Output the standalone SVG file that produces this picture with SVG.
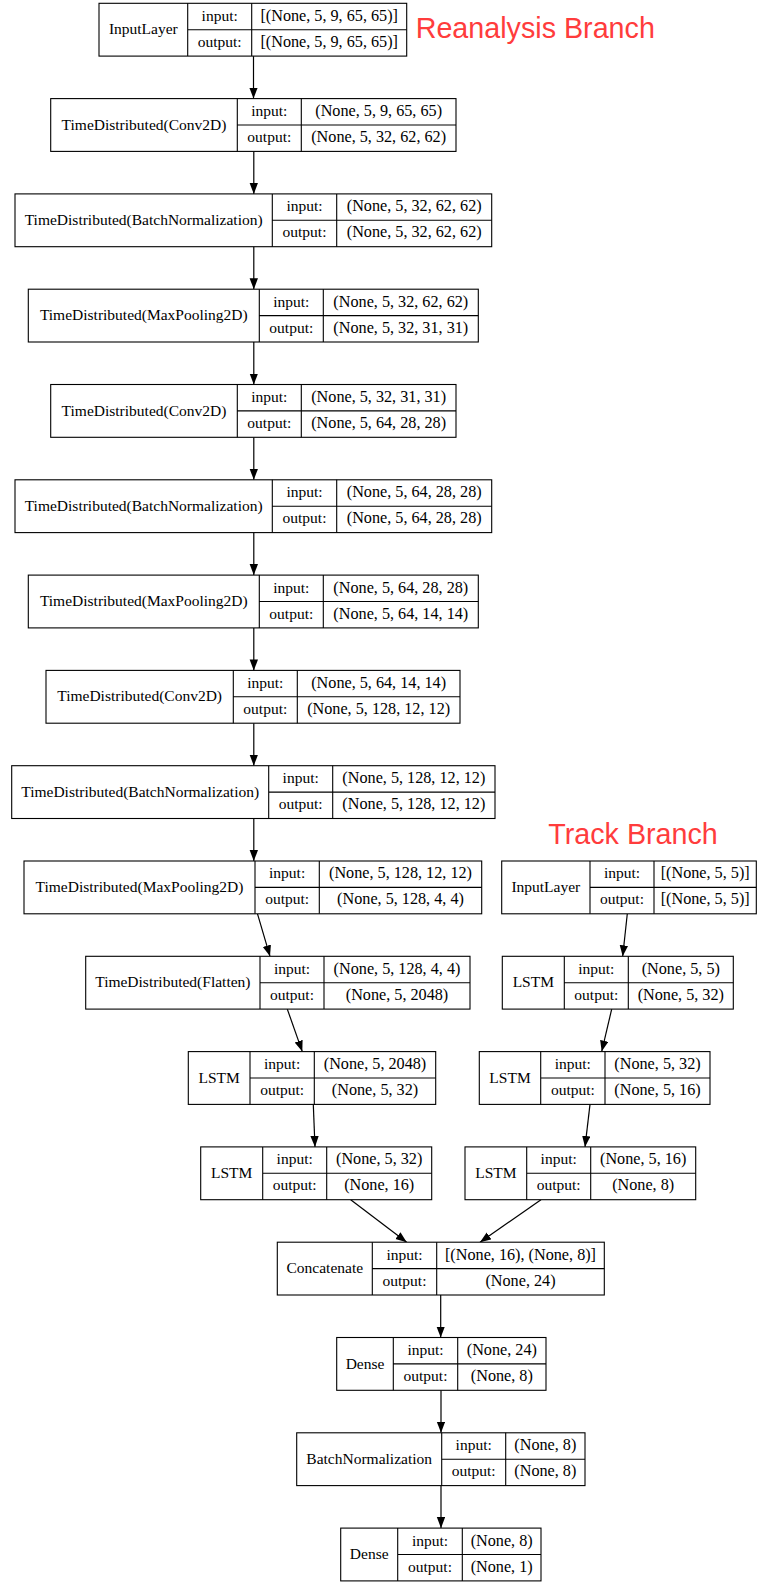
<svg xmlns="http://www.w3.org/2000/svg" width="757" height="1582" viewBox="0 0 757 1582">
  <style>
    .box { fill: #ffffff; stroke: #000000; stroke-width: 1.1; }
    .sep { stroke: #000000; stroke-width: 1.1; fill: none; }
    .t { font-family: "Liberation Serif", "Times New Roman", serif; font-size: 15.5px; fill: #000000; text-anchor: middle; }
    .v { font-size: 16.2px; }
    .branch { font-family: "Liberation Sans", Arial, sans-serif; font-size: 28.7px; fill: #ff3c3c; }
    .edge { stroke: #000000; stroke-width: 1.2; fill: none; marker-end: url(#arrow); }
  </style>
  <defs>
    <marker id="arrow" markerUnits="userSpaceOnUse" markerWidth="12" markerHeight="10" refX="11" refY="4.2" orient="auto">
      <path d="M0,0 L11,4.2 L0,8.4 z" fill="#000000"/>
    </marker>
  </defs>

  <rect x="0" y="0" width="757" height="1582" fill="#ffffff"/>

  <!-- branch titles -->
  <text class="branch" x="415.7" y="38.3">Reanalysis Branch</text>
  <text class="branch" x="548.3" y="844.3">Track Branch</text>

  <!-- connectors -->
  <g id="edges">
    <line class="edge" x1="253.5" y1="56.1" x2="253.5" y2="98.6"/>
    <line class="edge" x1="253.8" y1="151.4" x2="253.8" y2="193.9"/>
    <line class="edge" x1="253.8" y1="246.7" x2="253.8" y2="289.2"/>
    <line class="edge" x1="253.8" y1="342.0" x2="253.8" y2="384.5"/>
    <line class="edge" x1="253.8" y1="437.3" x2="253.8" y2="479.8"/>
    <line class="edge" x1="253.8" y1="532.6" x2="253.8" y2="575.1"/>
    <line class="edge" x1="253.8" y1="627.9" x2="253.8" y2="670.4"/>
    <line class="edge" x1="253.8" y1="723.2" x2="253.8" y2="765.7"/>
    <line class="edge" x1="253.8" y1="818.5" x2="253.8" y2="861.0"/>
    <line class="edge" x1="257.5" y1="913.8" x2="270.0" y2="956.3"/>
    <line class="edge" x1="287.3" y1="1009.1" x2="302.3" y2="1051.6"/>
    <line class="edge" x1="313.3" y1="1104.4" x2="315.0" y2="1146.9"/>
    <line class="edge" x1="350.7" y1="1199.7" x2="406.7" y2="1242.2"/>
    <line class="edge" x1="627.3" y1="913.8" x2="622.7" y2="956.3"/>
    <line class="edge" x1="611.7" y1="1009.1" x2="601.7" y2="1051.6"/>
    <line class="edge" x1="590.0" y1="1104.4" x2="585.0" y2="1146.9"/>
    <line class="edge" x1="541.0" y1="1199.7" x2="480.0" y2="1242.2"/>
    <line class="edge" x1="440.7" y1="1295.0" x2="440.7" y2="1337.5"/>
    <line class="edge" x1="441.0" y1="1390.3" x2="441.0" y2="1432.8"/>
    <line class="edge" x1="441.0" y1="1485.6" x2="441.0" y2="1528.1"/>
  </g>

  <!-- reanalysis branch -->
  <g id="input_reanalysis">
    <rect class="box" x="99" y="3.3" width="307.7" height="52.8"/>
    <path class="sep" d="M187.7,3.3 V56.1 M251.7,3.3 V56.1 M187.7,29.7 H406.7"/>
    <text class="t" x="143.35" y="34.3">InputLayer</text>
    <text class="t" x="219.7" y="20.7">input:</text>
    <text class="t" x="219.7" y="46.7">output:</text>
    <text class="t v" x="329.2" y="20.7">[(None, 5, 9, 65, 65)]</text>
    <text class="t v" x="329.2" y="46.7">[(None, 5, 9, 65, 65)]</text>
  </g>

  <g id="td_conv2d_1">
    <rect class="box" x="50.7" y="98.6" width="405.3" height="52.8"/>
    <path class="sep" d="M237.3,98.6 V151.4 M301.3,98.6 V151.4 M237.3,125 H456"/>
    <text class="t" x="144" y="129.6">TimeDistributed(Conv2D)</text>
    <text class="t" x="269.3" y="116">input:</text>
    <text class="t" x="269.3" y="142">output:</text>
    <text class="t v" x="378.65" y="116">(None, 5, 9, 65, 65)</text>
    <text class="t v" x="378.65" y="142">(None, 5, 32, 62, 62)</text>
  </g>

  <g id="td_batchnorm_1">
    <rect class="box" x="15" y="193.9" width="476.7" height="52.8"/>
    <path class="sep" d="M272.3,193.9 V246.7 M336.7,193.9 V246.7 M272.3,220.3 H491.7"/>
    <text class="t" x="143.65" y="224.9">TimeDistributed(BatchNormalization)</text>
    <text class="t" x="304.5" y="211.3">input:</text>
    <text class="t" x="304.5" y="237.3">output:</text>
    <text class="t v" x="414.2" y="211.3">(None, 5, 32, 62, 62)</text>
    <text class="t v" x="414.2" y="237.3">(None, 5, 32, 62, 62)</text>
  </g>

  <g id="td_maxpool_1">
    <rect class="box" x="28.3" y="289.2" width="450" height="52.8"/>
    <path class="sep" d="M259.3,289.2 V342 M323.3,289.2 V342 M259.3,315.6 H478.3"/>
    <text class="t" x="143.8" y="320.2">TimeDistributed(MaxPooling2D)</text>
    <text class="t" x="291.3" y="306.6">input:</text>
    <text class="t" x="291.3" y="332.6">output:</text>
    <text class="t v" x="400.8" y="306.6">(None, 5, 32, 62, 62)</text>
    <text class="t v" x="400.8" y="332.6">(None, 5, 32, 31, 31)</text>
  </g>

  <g id="td_conv2d_2">
    <rect class="box" x="50.7" y="384.5" width="405.3" height="52.8"/>
    <path class="sep" d="M237.3,384.5 V437.3 M301.3,384.5 V437.3 M237.3,410.9 H456"/>
    <text class="t" x="144" y="415.5">TimeDistributed(Conv2D)</text>
    <text class="t" x="269.3" y="401.9">input:</text>
    <text class="t" x="269.3" y="427.9">output:</text>
    <text class="t v" x="378.65" y="401.9">(None, 5, 32, 31, 31)</text>
    <text class="t v" x="378.65" y="427.9">(None, 5, 64, 28, 28)</text>
  </g>

  <g id="td_batchnorm_2">
    <rect class="box" x="15" y="479.8" width="476.7" height="52.8"/>
    <path class="sep" d="M272.3,479.8 V532.6 M336.7,479.8 V532.6 M272.3,506.2 H491.7"/>
    <text class="t" x="143.65" y="510.8">TimeDistributed(BatchNormalization)</text>
    <text class="t" x="304.5" y="497.2">input:</text>
    <text class="t" x="304.5" y="523.2">output:</text>
    <text class="t v" x="414.2" y="497.2">(None, 5, 64, 28, 28)</text>
    <text class="t v" x="414.2" y="523.2">(None, 5, 64, 28, 28)</text>
  </g>

  <g id="td_maxpool_2">
    <rect class="box" x="28.3" y="575.1" width="450" height="52.8"/>
    <path class="sep" d="M259.3,575.1 V627.9 M323.3,575.1 V627.9 M259.3,601.5 H478.3"/>
    <text class="t" x="143.8" y="606.1">TimeDistributed(MaxPooling2D)</text>
    <text class="t" x="291.3" y="592.5">input:</text>
    <text class="t" x="291.3" y="618.5">output:</text>
    <text class="t v" x="400.8" y="592.5">(None, 5, 64, 28, 28)</text>
    <text class="t v" x="400.8" y="618.5">(None, 5, 64, 14, 14)</text>
  </g>

  <g id="td_conv2d_3">
    <rect class="box" x="46" y="670.4" width="414" height="52.8"/>
    <path class="sep" d="M233.3,670.4 V723.2 M297.3,670.4 V723.2 M233.3,696.8 H460"/>
    <text class="t" x="139.65" y="701.4">TimeDistributed(Conv2D)</text>
    <text class="t" x="265.3" y="687.8">input:</text>
    <text class="t" x="265.3" y="713.8">output:</text>
    <text class="t v" x="378.65" y="687.8">(None, 5, 64, 14, 14)</text>
    <text class="t v" x="378.65" y="713.8">(None, 5, 128, 12, 12)</text>
  </g>

  <g id="td_batchnorm_3">
    <rect class="box" x="11.7" y="765.7" width="483.3" height="52.8"/>
    <path class="sep" d="M268.7,765.7 V818.5 M332.7,765.7 V818.5 M268.7,792.1 H495"/>
    <text class="t" x="140.2" y="796.7">TimeDistributed(BatchNormalization)</text>
    <text class="t" x="300.7" y="783.1">input:</text>
    <text class="t" x="300.7" y="809.1">output:</text>
    <text class="t v" x="413.85" y="783.1">(None, 5, 128, 12, 12)</text>
    <text class="t v" x="413.85" y="809.1">(None, 5, 128, 12, 12)</text>
  </g>

  <g id="td_maxpool_3">
    <rect class="box" x="24" y="861" width="457.7" height="52.8"/>
    <path class="sep" d="M255,861 V913.8 M319.3,861 V913.8 M255,887.4 H481.7"/>
    <text class="t" x="139.5" y="892">TimeDistributed(MaxPooling2D)</text>
    <text class="t" x="287.15" y="878.4">input:</text>
    <text class="t" x="287.15" y="904.4">output:</text>
    <text class="t v" x="400.5" y="878.4">(None, 5, 128, 12, 12)</text>
    <text class="t v" x="400.5" y="904.4">(None, 5, 128, 4, 4)</text>
  </g>

  <g id="td_flatten">
    <rect class="box" x="85.7" y="956.3" width="384.3" height="52.8"/>
    <path class="sep" d="M260,956.3 V1009.1 M324,956.3 V1009.1 M260,982.7 H470"/>
    <text class="t" x="172.85" y="987.3">TimeDistributed(Flatten)</text>
    <text class="t" x="292" y="973.7">input:</text>
    <text class="t" x="292" y="999.7">output:</text>
    <text class="t v" x="397" y="973.7">(None, 5, 128, 4, 4)</text>
    <text class="t v" x="397" y="999.7">(None, 5, 2048)</text>
  </g>

  <g id="lstm_r1">
    <rect class="box" x="188.3" y="1051.6" width="247.4" height="52.8"/>
    <path class="sep" d="M250,1051.6 V1104.4 M314.3,1051.6 V1104.4 M250,1078 H435.7"/>
    <text class="t" x="219.15" y="1082.6">LSTM</text>
    <text class="t" x="282.15" y="1069">input:</text>
    <text class="t" x="282.15" y="1095">output:</text>
    <text class="t v" x="375" y="1069">(None, 5, 2048)</text>
    <text class="t v" x="375" y="1095">(None, 5, 32)</text>
  </g>

  <g id="lstm_r2">
    <rect class="box" x="200.7" y="1146.9" width="231" height="52.8"/>
    <path class="sep" d="M262.7,1146.9 V1199.7 M326.7,1146.9 V1199.7 M262.7,1173.3 H431.7"/>
    <text class="t" x="231.7" y="1177.9">LSTM</text>
    <text class="t" x="294.7" y="1164.3">input:</text>
    <text class="t" x="294.7" y="1190.3">output:</text>
    <text class="t v" x="379.2" y="1164.3">(None, 5, 32)</text>
    <text class="t v" x="379.2" y="1190.3">(None, 16)</text>
  </g>

  <!-- track branch -->
  <g id="input_track">
    <rect class="box" x="501.7" y="861" width="254.6" height="52.8"/>
    <path class="sep" d="M590,861 V913.8 M654,861 V913.8 M590,887.4 H756.3"/>
    <text class="t" x="545.85" y="892">InputLayer</text>
    <text class="t" x="622" y="878.4">input:</text>
    <text class="t" x="622" y="904.4">output:</text>
    <text class="t v" x="705.2" y="878.4">[(None, 5, 5)]</text>
    <text class="t v" x="705.2" y="904.4">[(None, 5, 5)]</text>
  </g>

  <g id="lstm_t1">
    <rect class="box" x="502.3" y="956.3" width="231" height="52.8"/>
    <path class="sep" d="M564.3,956.3 V1009.1 M628.3,956.3 V1009.1 M564.3,982.7 H733.3"/>
    <text class="t" x="533.3" y="987.3">LSTM</text>
    <text class="t" x="596.3" y="973.7">input:</text>
    <text class="t" x="596.3" y="999.7">output:</text>
    <text class="t v" x="680.8" y="973.7">(None, 5, 5)</text>
    <text class="t v" x="680.8" y="999.7">(None, 5, 32)</text>
  </g>

  <g id="lstm_t2">
    <rect class="box" x="479.3" y="1051.6" width="230.7" height="52.8"/>
    <path class="sep" d="M540.7,1051.6 V1104.4 M605,1051.6 V1104.4 M540.7,1078 H710"/>
    <text class="t" x="510" y="1082.6">LSTM</text>
    <text class="t" x="572.85" y="1069">input:</text>
    <text class="t" x="572.85" y="1095">output:</text>
    <text class="t v" x="657.5" y="1069">(None, 5, 32)</text>
    <text class="t v" x="657.5" y="1095">(None, 5, 16)</text>
  </g>

  <g id="lstm_t3">
    <rect class="box" x="465" y="1146.9" width="230.7" height="52.8"/>
    <path class="sep" d="M526.7,1146.9 V1199.7 M590.7,1146.9 V1199.7 M526.7,1173.3 H695.7"/>
    <text class="t" x="495.85" y="1177.9">LSTM</text>
    <text class="t" x="558.7" y="1164.3">input:</text>
    <text class="t" x="558.7" y="1190.3">output:</text>
    <text class="t v" x="643.2" y="1164.3">(None, 5, 16)</text>
    <text class="t v" x="643.2" y="1190.3">(None, 8)</text>
  </g>

  <!-- merged head -->
  <g id="concatenate">
    <rect class="box" x="277.3" y="1242.2" width="327" height="52.8"/>
    <path class="sep" d="M372.3,1242.2 V1295 M436.7,1242.2 V1295 M372.3,1268.6 H604.3"/>
    <text class="t" x="324.8" y="1273.2">Concatenate</text>
    <text class="t" x="404.5" y="1259.6">input:</text>
    <text class="t" x="404.5" y="1285.6">output:</text>
    <text class="t v" x="520.5" y="1259.6">[(None, 16), (None, 8)]</text>
    <text class="t v" x="520.5" y="1285.6">(None, 24)</text>
  </g>

  <g id="dense_1">
    <rect class="box" x="336.7" y="1337.5" width="209.3" height="52.8"/>
    <path class="sep" d="M393.3,1337.5 V1390.3 M457.7,1337.5 V1390.3 M393.3,1363.9 H546"/>
    <text class="t" x="365" y="1368.5">Dense</text>
    <text class="t" x="425.5" y="1354.9">input:</text>
    <text class="t" x="425.5" y="1380.9">output:</text>
    <text class="t v" x="501.85" y="1354.9">(None, 24)</text>
    <text class="t v" x="501.85" y="1380.9">(None, 8)</text>
  </g>

  <g id="batchnorm">
    <rect class="box" x="296.7" y="1432.8" width="288.3" height="52.8"/>
    <path class="sep" d="M441.7,1432.8 V1485.6 M505.7,1432.8 V1485.6 M441.7,1459.2 H585"/>
    <text class="t" x="369.2" y="1463.8">BatchNormalization</text>
    <text class="t" x="473.7" y="1450.2">input:</text>
    <text class="t" x="473.7" y="1476.2">output:</text>
    <text class="t v" x="545.35" y="1450.2">(None, 8)</text>
    <text class="t v" x="545.35" y="1476.2">(None, 8)</text>
  </g>

  <g id="dense_2">
    <rect class="box" x="340.7" y="1528.1" width="200.3" height="52.8"/>
    <path class="sep" d="M397.7,1528.1 V1580.9 M462.3,1528.1 V1580.9 M397.7,1554.5 H541"/>
    <text class="t" x="369.2" y="1559.1">Dense</text>
    <text class="t" x="430" y="1545.5">input:</text>
    <text class="t" x="430" y="1571.5">output:</text>
    <text class="t v" x="501.65" y="1545.5">(None, 8)</text>
    <text class="t v" x="501.65" y="1571.5">(None, 1)</text>
  </g>
</svg>
